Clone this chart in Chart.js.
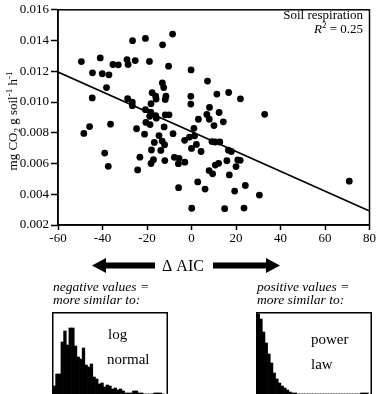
<!DOCTYPE html>
<html>
<head>
<meta charset="utf-8">
<script src="https://cdn.jsdelivr.net/npm/chart.js@4.4.0/dist/chart.umd.min.js"></script>
<style>
  body { margin: 0; background: #fff; }
  #wrap { position: relative; width: 377px; height: 394px; overflow: hidden; }
  canvas { position: absolute; }
</style>
</head>
<body>
<div id="wrap">
  <canvas id="main" width="377" height="394" style="left:0;top:0"></canvas>
  <canvas id="histLog" width="116" height="84" style="left:52px;top:312px"></canvas>
  <canvas id="histPow" width="116" height="84" style="left:256px;top:312px"></canvas>
</div>
<script>
const SERIF = '"Liberation Serif", "Times New Roman", serif';

// Delta AIC (x) vs soil respiration, mg CO2 g soil-1 h-1 (y)
const deltaAIC = [-49.5,-44.5,-41.0,-40.1,-37.1,-38.2,-44.6,-35.3,-32.9,-29.0,
  -28.5,-26.5,-25.3,-20.7,-18.9,-13.0,-8.5,-10.3,-13.1,-12.5,
  -0.2,7.2,-0.3,-0.3,11.4,16.7,22.0,-28.7,-26.6,-26.6,
  -17.7,-16.1,-15.9,-11.5,-11.8,-20.7,-18.2,-18.3,-18.8,-16.1,
  -15.8,-11.8,-10.1,-45.8,-36.4,-20.5,-18.6,-24.7,-12.3,1.1,
  3.1,8.0,14.3,10.1,8.1,6.9,12.4,32.9,-48.4,-39.0,
  -37.4,-21.1,-14.6,-8.3,-23.2,-24.2,-18.0,-17.1,-18.2,-16.7,
  -13.2,-12.1,-13.8,-12.0,-7.7,-5.6,-3.0,-5.9,-5.8,-3.1,
  -0.9,1.4,2.2,0.0,4.3,9.2,10.6,12.7,16.6,17.9,
  10.7,12.2,15.9,20.8,21.9,20.0,7.9,9.5,17.0,2.8,
  6.1,19.4,24.2,30.5,70.9,0.1,14.9,23.6];
const respiration = [0.01263,0.01190,0.01287,0.01184,0.01177,0.01094,0.01027,0.01244,0.01242,0.01276,
  0.01244,0.01399,0.01270,0.01414,0.01264,0.01372,0.01442,0.01233,0.01124,0.01094,
  0.01209,0.01136,0.01037,0.00987,0.01052,0.01062,0.01021,0.01022,0.01000,0.00976,
  0.01061,0.01038,0.01019,0.01038,0.01016,0.00950,0.00989,0.00934,0.00907,0.00912,
  0.00895,0.00917,0.00917,0.00840,0.00856,0.00867,0.00853,0.00826,0.00838,0.00829,
  0.00888,0.00888,0.00871,0.00847,0.00965,0.00919,0.00932,0.00920,0.00796,0.00668,
  0.00582,0.00791,0.00782,0.00794,0.00641,0.00558,0.00688,0.00625,0.00600,0.00737,
  0.00746,0.00722,0.00685,0.00619,0.00640,0.00634,0.00609,0.00599,0.00443,0.00751,
  0.00772,0.00780,0.00724,0.00698,0.00678,0.00743,0.00740,0.00740,0.00687,0.00678,
  0.00590,0.00601,0.00618,0.00623,0.00621,0.00580,0.00554,0.00533,0.00526,0.00480,
  0.00434,0.00421,0.00457,0.00395,0.00485,0.00309,0.00306,0.00310];

// regression line end points
const fitX = [-60, 80];
const fitY = [0.01195, 0.00291];

const xTicks = [-60, -40, -20, 0, 20, 40, 60, 80];
const yTicks = [0.002, 0.004, 0.006, 0.008, 0.010, 0.012, 0.014, 0.016];

// example histograms (relative frequency per bin)
const logNormalBins = [10,22,22,54,65,51,68,68,50,39,37,48,31,29,32,19,17,12,13,9,
  11,10,7,8,6,7,5,3,3,3,5,5,3,3,2,2,2,2,3,3,3,2,0];
const powerLawBins = [82,77,64,53,42,33,23,17,13,10,8,6,4,3,3,2,2,2,2,2,
  2,2,2,2,2,2,2,2,2,2,2,2,2,2,2,2,2,2,2,3,3,3,0];

// draw a run of text pieces (sub/superscripts) starting at x
function richWidth(ctx, parts) {
  let w = 0;
  parts.forEach(p => { ctx.font = p.font; w += ctx.measureText(p.t).width; });
  return w;
}
function drawRich(ctx, parts, x, y) {
  parts.forEach(p => {
    ctx.font = p.font;
    ctx.fillText(p.t, x, y + (p.dy || 0));
    x += ctx.measureText(p.t).width;
  });
}

function arrow(ctx, tail, tip, y) {
  const dir = tip > tail ? 1 : -1;
  const headLen = 14, headHalf = 7.5, shaftHalf = 3;
  const base = tip - dir * headLen;
  ctx.beginPath();
  ctx.moveTo(tail, y - shaftHalf);
  ctx.lineTo(base, y - shaftHalf);
  ctx.lineTo(base, y - headHalf);
  ctx.lineTo(tip, y);
  ctx.lineTo(base, y + headHalf);
  ctx.lineTo(base, y + shaftHalf);
  ctx.lineTo(tail, y + shaftHalf);
  ctx.closePath();
  ctx.fill();
}

const decorations = {
  id: 'decorations',
  afterDraw(chart) {
    const ctx = chart.ctx;
    const a = chart.chartArea;
    ctx.save();
    ctx.strokeStyle = '#000';
    ctx.lineWidth = 1.5;
    ctx.strokeRect(a.left, a.top, a.right - a.left, a.bottom - a.top);

    ctx.fillStyle = '#000';
    ctx.textBaseline = 'alphabetic';

    // y axis title
    const base = '13px ' + SERIF, small = '9px ' + SERIF;
    const yTitle = [
      { t: 'mg CO', font: base }, { t: '2', font: small, dy: 3 },
      { t: ' g soil', font: base }, { t: '-1', font: small, dy: -5 },
      { t: ' h', font: base }, { t: '-1', font: small, dy: -5 }
    ];
    ctx.save();
    ctx.translate(17, 121);
    ctx.rotate(-Math.PI / 2);
    drawRich(ctx, yTitle, -richWidth(ctx, yTitle) / 2, 0);
    ctx.restore();

    // label in corner
    ctx.font = '13px ' + SERIF;
    ctx.textAlign = 'right';
    ctx.fillText('Soil respiration', 363, 19);
    ctx.textAlign = 'left';
    const r2 = [
      { t: 'R', font: 'italic 13px ' + SERIF }, { t: '2', font: '9px ' + SERIF, dy: -5 },
      { t: ' = 0.25', font: '13px ' + SERIF }
    ];
    drawRich(ctx, r2, 363 - richWidth(ctx, r2), 33);

    // arrows and delta AIC
    arrow(ctx, 155, 92, 265.5);
    arrow(ctx, 213, 280, 265.5);
    ctx.font = '16px ' + SERIF;
    ctx.textAlign = 'center';
    ctx.fillText('\u0394 AIC', 183, 271);

    ctx.textAlign = 'left';
    ctx.font = 'italic 13.5px ' + SERIF;
    ctx.fillText('negative values =', 53, 291);
    ctx.fillText('more similar to:', 53, 304);
    ctx.fillText('positive values =', 257, 291);
    ctx.fillText('more similar to:', 257, 304);
    ctx.restore();
  }
};

new Chart(document.getElementById('main'), {
  type: 'scatter',
  data: {
    datasets: [
      {
        type: 'line',
        data: fitX.map((x, i) => ({ x: x, y: fitY[i] })),
        borderColor: '#000',
        borderWidth: 1.5,
        pointRadius: 0,
        fill: false
      },
      {
        data: deltaAIC.map((x, i) => ({ x: x, y: respiration[i] })),
        backgroundColor: '#000',
        borderColor: '#000',
        borderWidth: 0,
        pointRadius: 3.4
      }
    ]
  },
  options: {
    responsive: false,
    animation: false,
    layout: { autoPadding: false, padding: { left: 0, right: 6, top: 6, bottom: 144 } },
    plugins: { legend: { display: false }, tooltip: { enabled: false } },
    scales: {
      x: {
        type: 'linear', min: -60, max: 80,
        afterBuildTicks: s => { s.ticks = xTicks.map(v => ({ value: v })); },
        afterFit: s => { s.height = 25; },
        ticks: { color: '#000', font: { family: SERIF, size: 13 }, padding: 1, callback: v => String(v) },
        grid: { display: true, drawOnChartArea: false, tickLength: 5, tickWidth: 1.5, color: '#000' },
        border: { color: '#000', width: 1.5 }
      },
      y: {
        min: 0.002, max: 0.016,
        afterBuildTicks: s => { s.ticks = yTicks.map(v => ({ value: v })); },
        afterFit: s => { s.width = 58; },
        ticks: { color: '#000', font: { family: SERIF, size: 13 }, padding: 2, callback: v => v.toFixed(3) },
        grid: { display: true, drawOnChartArea: false, tickLength: 7, tickWidth: 1.5, color: '#000' },
        border: { color: '#000', width: 1.5 }
      }
    }
  },
  plugins: [decorations]
});

function histFrame(lines) {
  return {
    id: 'histFrame',
    afterDraw(chart) {
      const ctx = chart.ctx;
      ctx.save();
      ctx.strokeStyle = '#000';
      ctx.lineWidth = 1.5;
      ctx.strokeRect(0.75, 0.75, chart.width - 1.5, chart.height - 1.5);
      ctx.fillStyle = '#000';
      ctx.font = '15px ' + SERIF;
      lines.forEach(l => ctx.fillText(l.t, l.x, l.y));
      ctx.restore();
    }
  };
}

function histogram(id, bins, lines) {
  new Chart(document.getElementById(id), {
    type: 'bar',
    data: {
      labels: bins.map((b, i) => i),
      datasets: [{ data: bins, backgroundColor: '#000', borderWidth: 0, barPercentage: 1, categoryPercentage: 1 }]
    },
    options: {
      responsive: false,
      animation: false,
      layout: { padding: { left: 1, right: 1, top: 0, bottom: 0 } },
      plugins: { legend: { display: false }, tooltip: { enabled: false } },
      scales: { x: { display: false }, y: { display: false, min: 0, max: 84 } }
    },
    plugins: [histFrame(lines)]
  });
}

histogram('histLog', logNormalBins, [{ t: 'log', x: 56, y: 27 }, { t: 'normal', x: 55, y: 52 }]);
histogram('histPow', powerLawBins, [{ t: 'power', x: 55, y: 32 }, { t: 'law', x: 55, y: 57 }]);
</script>
</body>
</html>
